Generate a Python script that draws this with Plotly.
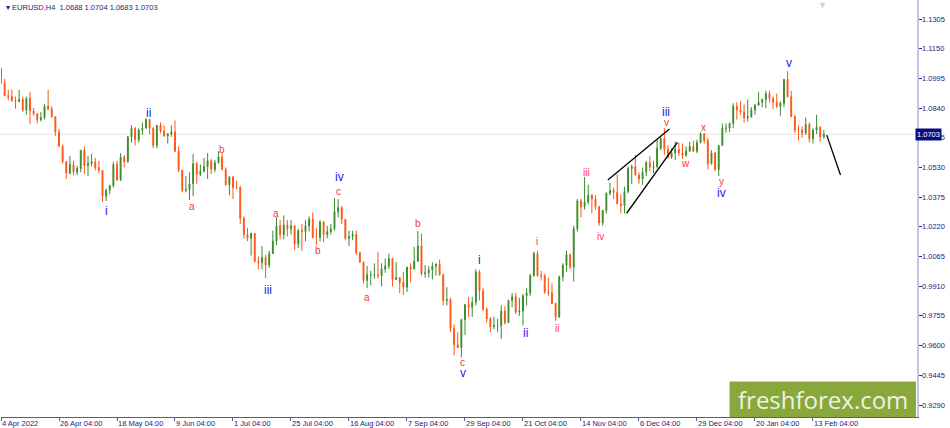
import plotly.graph_objects as go

# EURUSD H4 view, read off the screenshot as one candle per trading day
# day index 0 = 4 Apr 2022 (no bar on 26 Dec)
first_open = 1.1045
closes = [
    1.0970, 1.0905, 1.0900, 1.0880, 1.0875, 1.0885, 1.0830, 1.0890, 1.0825, 1.0810,
    1.0780, 1.0790, 1.0850, 1.0835, 1.0795, 1.0715, 1.0640, 1.0560, 1.0500, 1.0545,
    1.0505, 1.0525, 1.0620, 1.0540, 1.0550, 1.0560, 1.0530, 1.0515, 1.0380, 1.0410,
    1.0435, 1.0545, 1.0465, 1.0585, 1.0560, 1.0690, 1.0735, 1.0675, 1.0725, 1.0735,
    1.0780, 1.0735, 1.0645, 1.0750, 1.0720, 1.0695, 1.0705, 1.0715, 1.0615, 1.0515,
    1.0410, 1.0415, 1.0445, 1.0550, 1.0495, 1.0510, 1.0535, 1.0565, 1.0520, 1.0555,
    1.0585, 1.0520, 1.0440, 1.0480, 1.0425, 1.0425, 1.0265, 1.0180, 1.0160, 1.0185,
    1.0040, 1.0035, 1.0060, 1.0020, 1.0080, 1.0145, 1.0225, 1.0180, 1.0230, 1.0210,
    1.0225, 1.0130, 1.0200, 1.0195, 1.0225, 1.0260, 1.0165, 1.0165, 1.0245, 1.0180,
    1.0195, 1.0210, 1.0300, 1.0320, 1.0260, 1.0160, 1.0170, 1.0180, 1.0085, 1.0035,
    0.9940, 0.9970, 0.9970, 0.9970, 0.9965, 1.0000, 1.0015, 1.0055, 0.9945, 0.9955,
    0.9930, 0.9905, 1.0010, 1.0000, 1.0040, 1.0120, 0.9975, 0.9980, 0.9995, 1.0015,
    1.0025, 0.9970, 0.9835, 0.9840, 0.9690, 0.9605, 0.9590, 0.9735, 0.9815, 0.9800,
    0.9825, 0.9985, 0.9885, 0.9790, 0.9740, 0.9700, 0.9705, 0.9705, 0.9780, 0.9720,
    0.9835, 0.9855, 0.9775, 0.9780, 0.9860, 0.9875, 0.9965, 1.0080, 0.9965, 0.9965,
    0.9880, 0.9875, 0.9820, 0.9750, 0.9960, 1.0020, 1.0075, 1.0010, 1.0210, 1.0355,
    1.0325, 1.0350, 1.0385, 1.0365, 1.0325, 1.0240, 1.0305, 1.0395, 1.0410, 1.0400,
    1.0340, 1.0330, 1.0405, 1.0525, 1.0535, 1.0490, 1.0470, 1.0505, 1.0555, 1.0530,
    1.0535, 1.0630, 1.0680, 1.0625, 1.0585, 1.0605, 1.0625, 1.0605, 1.0595, 1.0615,
    1.0640, 1.0615, 1.0660, 1.0705, 1.0670, 1.0550, 1.0605, 1.0520, 1.0645, 1.0735,
    1.0735, 1.0760, 1.0850, 1.0830, 1.0820, 1.0790, 1.0795, 1.0830, 1.0855, 1.0870,
    1.0885, 1.0915, 1.0890, 1.0870, 1.0850, 1.0865, 1.0990, 1.0900, 1.0795, 1.0725,
    1.0725, 1.0710, 1.0755, 1.0680, 1.0725, 1.0740, 1.0690, 1.0703,
]
highs = [
    1.1054, 1.0992, 1.0935, 1.0937, 1.0900, 1.0935, 1.0900, 1.0900, 1.0925, 1.0840,
    1.0815, 1.0820, 1.0860, 1.0935, 1.0850, 1.0790, 1.0730, 1.0650, 1.0565, 1.0590,
    1.0565, 1.0540, 1.0620, 1.0640, 1.0590, 1.0600, 1.0580, 1.0565, 1.0515, 1.0420,
    1.0440, 1.0560, 1.0565, 1.0605, 1.0595, 1.0695, 1.0750, 1.0740, 1.0735, 1.0765,
    1.0787, 1.0785, 1.0740, 1.0750, 1.0765, 1.0750, 1.0710, 1.0750, 1.0775, 1.0640,
    1.0505, 1.0485, 1.0505, 1.0600, 1.0560, 1.0545, 1.0580, 1.0605, 1.0575, 1.0570,
    1.0615, 1.0605, 1.0530, 1.0485, 1.0485, 1.0460, 1.0435, 1.0275, 1.0215, 1.0190,
    1.0175, 1.0065, 1.0120, 1.0075, 1.0095, 1.0200, 1.0270, 1.0255, 1.0280, 1.0255,
    1.0255, 1.0230, 1.0210, 1.0235, 1.0255, 1.0275, 1.0295, 1.0215, 1.0255, 1.0250,
    1.0225, 1.0235, 1.0370, 1.0365, 1.0330, 1.0250, 1.0200, 1.0200, 1.0200, 1.0090,
    1.0040, 1.0015, 0.9990, 1.0030, 1.0090, 1.0030, 1.0055, 1.0080, 1.0055, 1.0035,
    0.9935, 0.9985, 1.0010, 1.0030, 1.0115, 1.0198, 1.0185, 1.0020, 1.0015, 1.0035,
    1.0030, 1.0050, 0.9975, 0.9905, 0.9850, 0.9710, 0.9670, 0.9740, 0.9815, 0.9855,
    0.9855, 0.9999, 0.9995, 0.9900, 0.9800, 0.9750, 0.9750, 0.9740, 0.9810, 0.9805,
    0.9840, 0.9875, 0.9875, 0.9850, 0.9870, 0.9900, 0.9975, 1.0090, 1.0095, 0.9990,
    0.9975, 0.9955, 0.9925, 0.9825, 0.9965, 1.0030, 1.0095, 1.0080, 1.0225, 1.0365,
    1.0365, 1.0480, 1.0440, 1.0390, 1.0385, 1.0330, 1.0310, 1.0400, 1.0450, 1.0425,
    1.0495, 1.0390, 1.0430, 1.0535, 1.0545, 1.0595, 1.0505, 1.0530, 1.0565, 1.0590,
    1.0565, 1.0675, 1.0695, 1.0735, 1.0645, 1.0630, 1.0665, 1.0660, 1.0655, 1.0640,
    1.0665, 1.0670, 1.0675, 1.0715, 1.0710, 1.0685, 1.0620, 1.0610, 1.0645, 1.0760,
    1.0760, 1.0765, 1.0865, 1.0870, 1.0875, 1.0860, 1.0885, 1.0845, 1.0860, 1.0925,
    1.0890, 1.0930, 1.0930, 1.0900, 1.0915, 1.0875, 1.0990, 1.1033, 1.0930, 1.0805,
    1.0750, 1.0745, 1.0790, 1.0765, 1.0735, 1.0805, 1.0745, 1.0725,
]
lows = [
    1.0966, 1.0903, 1.0880, 1.0872, 1.0837, 1.0870, 1.0820, 1.0805, 1.0757, 1.0800,
    1.0760, 1.0770, 1.0780, 1.0830, 1.0790, 1.0695, 1.0640, 1.0550, 1.0470, 1.0495,
    1.0490, 1.0490, 1.0505, 1.0495, 1.0485, 1.0535, 1.0515, 1.0500, 1.0350, 1.0355,
    1.0390, 1.0425, 1.0460, 1.0460, 1.0530, 1.0555, 1.0660, 1.0645, 1.0660, 1.0700,
    1.0735, 1.0705, 1.0630, 1.0630, 1.0710, 1.0690, 1.0655, 1.0690, 1.0610, 1.0505,
    1.0400, 1.0400, 1.0360, 1.0380, 1.0445, 1.0485, 1.0505, 1.0470, 1.0495, 1.0505,
    1.0550, 1.0515, 1.0435, 1.0385, 1.0365, 1.0415, 1.0235, 1.0160, 1.0145, 1.0070,
    1.0035, 0.9998, 0.9998, 0.9952, 1.0005, 1.0080, 1.0125, 1.0155, 1.0155, 1.0170,
    1.0180, 1.0100, 1.0110, 1.0095, 1.0145, 1.0195, 1.0160, 1.0125, 1.0145, 1.0140,
    1.0160, 1.0180, 1.0200, 1.0270, 1.0235, 1.0150, 1.0120, 1.0150, 1.0075, 1.0035,
    0.9925, 0.9900, 0.9915, 0.9950, 0.9950, 0.9910, 0.9980, 1.0000, 0.9910, 0.9945,
    0.9875, 0.9865, 0.9880, 0.9930, 1.0000, 1.0045, 0.9965, 0.9955, 0.9955, 0.9945,
    0.9965, 0.9965, 0.9810, 0.9810, 0.9670, 0.9550, 0.9595, 0.9540, 0.9655, 0.9750,
    0.9750, 0.9810, 0.9835, 0.9780, 0.9720, 0.9670, 0.9685, 0.9670, 0.9635, 0.9710,
    0.9725, 0.9800, 0.9765, 0.9755, 0.9705, 0.9810, 0.9860, 0.9960, 0.9960, 0.9940,
    0.9870, 0.9860, 0.9815, 0.9730, 0.9745, 0.9935, 0.9985, 1.0000, 0.9935, 1.0195,
    1.0270, 1.0310, 1.0335, 1.0290, 1.0310, 1.0225, 1.0225, 1.0290, 1.0385, 1.0365,
    1.0340, 1.0290, 1.0290, 1.0395, 1.0445, 1.0490, 1.0445, 1.0440, 1.0485, 1.0510,
    1.0500, 1.0525, 1.0620, 1.0595, 1.0575, 1.0575, 1.0570, 1.0590, 1.0575, 1.0585,
    1.0625, 1.0610, 1.0605, 1.0655, 1.0655, 1.0520, 1.0545, 1.0510, 1.0485, 1.0645,
    1.0710, 1.0715, 1.0735, 1.0780, 1.0805, 1.0765, 1.0770, 1.0790, 1.0805, 1.0855,
    1.0845, 1.0840, 1.0870, 1.0835, 1.0840, 1.0800, 1.0845, 1.0895, 1.0795, 1.0710,
    1.0670, 1.0685, 1.0700, 1.0660, 1.0655, 1.0705, 1.0665, 1.0680,
]
opens = [first_open] + closes[:-1]
days = list(range(len(closes)))

tick_days = [0, 16, 32, 48, 64, 80, 96, 112, 128, 144, 160, 176, 192, 208, 224]
tick_labels = ["4 Apr 2022", "26 Apr 04:00", "18 May 04:00", "9 Jun 04:00", "1 Jul 04:00",
               "25 Jul 04:00", "16 Aug 04:00", "7 Sep 04:00", "29 Sep 04:00", "21 Oct 04:00",
               "14 Nov 04:00", "6 Dec 04:00", "29 Dec 04:00", "20 Jan 04:00", "13 Feb 04:00"]
price_ticks = ["0.9290", "0.9445", "0.9600", "0.9755", "0.9910", "1.0065", "1.0220",
               "1.0375", "1.0530", "1.0685", "1.0840", "1.0995", "1.1150", "1.1305"]
last_price = 1.0703

# wave counts: (label, day, price)
major_text = ["i", "ii", "iii", "iv", "v", "i", "ii", "iii", "iv", "v"]
major_day = [29.0, 40.8, 73.7, 93.5, 127.4, 132.1, 144.6, 183.4, 198.9, 217.4]
major_price = [1.0303, 1.0814, 0.9890, 1.0480, 0.9457, 1.0047, 0.9666, 1.0820, 1.0397, 1.1075]

minor_text = ["a", "b", "a", "b", "c", "a", "b", "c", "i", "ii", "iii", "iv", "v", "w", "x", "y"]
minor_day = [52.7, 61.0, 75.9, 87.4, 93.2, 101.0, 115.0, 127.4, 147.9, 153.4, 161.4, 165.5,
             183.7, 188.7, 193.7, 198.9]
minor_price = [1.0324, 1.0626, 1.0292, 1.0099, 1.0402, 0.9849, 1.0235, 0.9514, 1.0141, 0.9692,
               1.0506, 1.0172, 1.0767, 1.0553, 1.0741, 1.0459]

# trend lines drawn on the chart: (day0, price0, day1, price1)
trend_lines = [
    (167.4, 1.0464, 184.4, 1.0731),
    (172.6, 1.0291, 186.6, 1.0661),
    (227.8, 1.0699, 231.6, 1.0491),
]

UP = "#3a8c2c"
DOWN = "#ff5513"
NAVY = "#23237a"
FONT = "Liberation Sans, Arial, sans-serif"
SMALL = 7.5

fig = go.Figure()
fig.add_trace(go.Candlestick(
    x=days, open=opens, high=highs, low=lows, close=closes,
    increasing=dict(line=dict(color=UP, width=1), fillcolor=UP),
    decreasing=dict(line=dict(color=DOWN, width=1), fillcolor=DOWN),
    whiskerwidth=0, showlegend=False, hoverinfo="skip",
))

# bid line
fig.add_hline(y=last_price, line=dict(color="#e2e2e2", width=1), layer="below")

for d0, p0, d1, p1 in trend_lines:
    fig.add_shape(type="line", x0=d0, y0=p0, x1=d1, y1=p1, xref="x", yref="y",
                  line=dict(color="black", width=1.3))

for t, d, p in zip(major_text, major_day, major_price):
    fig.add_annotation(x=d, y=p, text=t, showarrow=False,
                       font=dict(family=FONT, size=12, color="#2323e6"))
for t, d, p in zip(minor_text, minor_day, minor_price):
    fig.add_annotation(x=d, y=p, text=t, showarrow=False,
                       font=dict(family=FONT, size=10, color="#f23a3a"))

# date labels sit to the right of their tick, like the terminal does
for d, lab in zip(tick_days, tick_labels):
    fig.add_annotation(x=d, y=0, xref="x", yref="paper", text=lab, showarrow=False,
                       xanchor="left", yanchor="top", xshift=-1, yshift=0,
                       font=dict(family=FONT, size=SMALL, color=NAVY))

# price scale labels
for lab in price_ticks:
    fig.add_annotation(x=1, y=float(lab), xref="paper", yref="y", text=lab, showarrow=False,
                       xanchor="left", yanchor="middle", xshift=3,
                       font=dict(family=FONT, size=SMALL, color=NAVY))

# current price tag
fig.add_annotation(x=1, y=last_price, xref="paper", yref="y", text=f"{last_price:.4f}",
                   showarrow=False, xanchor="left", yanchor="middle", xshift=-2,
                   bgcolor="#0c0c82", borderpad=1,
                   font=dict(family=FONT, size=SMALL, color="white"))

# symbol header
fig.add_annotation(x=0, y=1, xref="paper", yref="paper",
                   text="▾ EURUSD,H4  1.0688 1.0704 1.0683 1.0703", showarrow=False,
                   xanchor="left", yanchor="top", xshift=3, yshift=-1,
                   font=dict(family=FONT, size=SMALL, color=NAVY))

# chart shift marker
fig.add_annotation(x=226.5, y=1, xref="x", yref="paper", text="▼", showarrow=False,
                   yanchor="top", yshift=4, font=dict(size=9, color="#d2d2d2"))

# watermark
fig.add_shape(type="rect", xref="paper", yref="paper", x0=0.7956, x1=0.9989, y0=0.0, y1=0.0845,
              fillcolor="#89a83c", line=dict(width=0), layer="above")
fig.add_annotation(x=0.8975, y=0.042, xref="paper", yref="paper", text="freshforex.com",
                   showarrow=False, xanchor="center", yanchor="middle",
                   font=dict(family="Open Sans", size=24, color="#eef2e2"))

fig.update_layout(
    width=950, height=428,
    margin=dict(l=1, r=33, t=0, b=11),
    paper_bgcolor="white", plot_bgcolor="white",
    boxgap=0.65,
    xaxis=dict(range=[0, 252.7], rangeslider=dict(visible=False), showgrid=False,
               zeroline=False, showline=True, linecolor="#5656a8", linewidth=1,
               tickvals=tick_days, ticktext=[""] * len(tick_days), ticks="outside",
               ticklen=3, tickcolor="#5656a8"),
    yaxis=dict(range=[0.92274, 1.14042], side="right", showgrid=False, zeroline=False,
               showline=True, linecolor="#c2c2ea", linewidth=2,
               tickvals=[float(v) for v in price_ticks], showticklabels=False,
               ticks="outside", ticklen=3, tickcolor=NAVY),
    shapes=[dict(type="line", xref="paper", yref="paper", x0=0, x1=0, y0=0, y1=1,
                 line=dict(color="#5656a8", width=1))] + list(fig.layout.shapes),
)

fig.write_html("out.html", config={"displayModeBar": False},
               post_script="document.body.style.margin='0';")
